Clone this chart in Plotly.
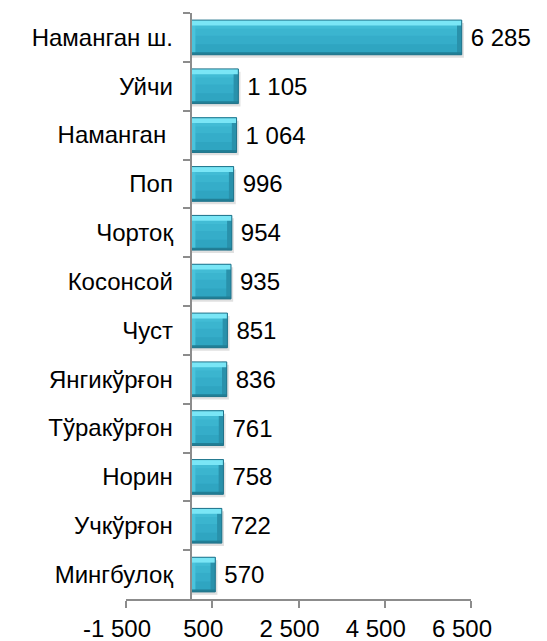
import plotly.graph_objects as go

categories = ["Наманган ш.", "Уйчи", "Наманган\u00a0", "Поп", "Чортоқ", "Косонсой",
              "Чуст", "Янгикўрғон", "Тўракўрғон", "Норин", "Учкўрғон", "Мингбулоқ"]
values = [6285, 1105, 1064, 996, 954, 935, 851, 836, 761, 758, 722, 570]
tick_vals = [-1500, 500, 2500, 4500, 6500]
tick_text = ["-1 500", "500", "2 500", "4 500", "6 500"]

FONT = "Liberation Sans, Arial, sans-serif"
FS = 24
W = 0.71          # bar thickness (category units)
BEV = 110         # horizontal bevel size (data units)
HALF = W / 2

fig = go.Figure()

def bar(x, color, width=W, offset=-HALF, base=None, line=None, **kw):
    fig.add_trace(go.Bar(
        y=categories, x=x, base=base, orientation="h",
        width=width, offset=offset,
        marker=dict(color=color, line=line or dict(width=0)),
        hoverinfo="skip", showlegend=False, **kw))

# soft shadow
bar([v + 50 for v in values], "rgba(0,0,0,0.12)", offset=-HALF + 0.06)
# main face
bar(values, "#2fa5c1")
# face gradient (lighter upper part)
bar(values, "#35adc9", width=W * 0.7, offset=-HALF)
bar(values, "#3bb5cf", width=W * 0.45, offset=-HALF)
bar(values, "#42bcd5", width=W * 0.25, offset=-HALF)
# left bevel
bar([BEV] * len(values), "#4ac3db", base=[0] * len(values))
# right bevel
bar([BEV] * len(values), "#2991ab", base=[v - BEV for v in values])
# top bevel
bar(values, "#7ae6f6", width=0.11, offset=-HALF)
# bottom bevel
bar(values, "#217f96", width=0.05, offset=HALF - 0.05)
# outline + labels
bar(values, "rgba(0,0,0,0)", line=dict(color="#22738a", width=1),
    texttemplate="\u2005%{x:,}", textposition="outside",
    textfont=dict(family=FONT, size=FS, color="#000000"), cliponaxis=False)

fig.update_layout(
    width=547, height=641,
    barmode="overlay",
    separators=", ",
    paper_bgcolor="white", plot_bgcolor="white",
    margin=dict(l=126, r=76, t=13, b=42, autoexpand=False),
    font=dict(family=FONT, size=FS, color="#000000"),
    xaxis=dict(range=[-1500, 6500], tickvals=tick_vals, ticktext=tick_text,
               automargin=False,
               showgrid=False, zeroline=False, showline=True,
               linecolor="#8c8c8c", linewidth=2, ticks="outside", ticklen=7,
               tickwidth=2, tickcolor="#8c8c8c", ticklabelshift=-9,
               tickfont=dict(family=FONT, size=FS, color="#000000")),
    yaxis=dict(type="category", categoryorder="array", categoryarray=categories,
               range=[len(categories) - 0.5, -0.5], automargin=False,
               anchor="free", position=1500 / 8000,
               showgrid=False, zeroline=False, showline=True,
               linecolor="#8c8c8c", linewidth=2, ticks="outside", ticklen=7,
               tickwidth=2, tickcolor="#8c8c8c", tickson="boundaries",
               ticklabelstandoff=12,
               tickfont=dict(family=FONT, size=FS, color="#000000")),
)

fig.write_html("out.html",
               config={"displayModeBar": False},
               post_script="document.body.style.margin='0';"
                           "document.body.style.overflow='hidden';")
